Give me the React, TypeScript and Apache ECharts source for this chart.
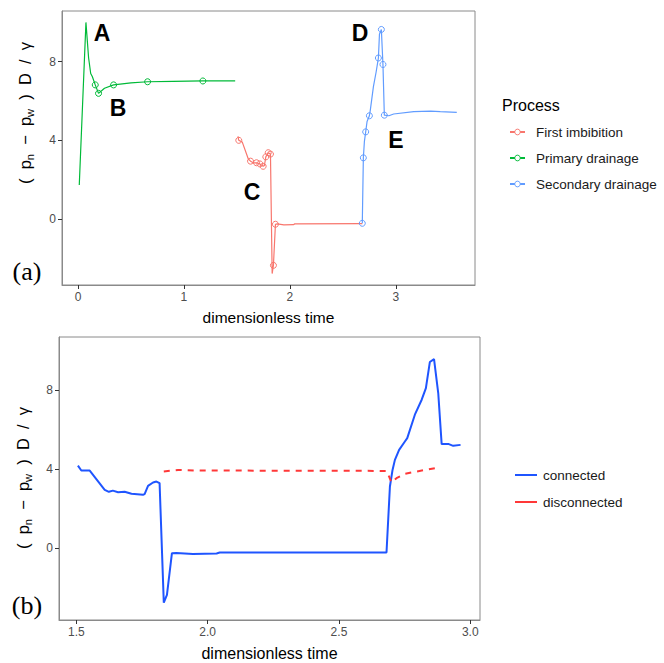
import React, { useEffect, useRef } from "react";
import * as echarts from "echarts";

// ---------- Panel (a) data ----------
const imbX = [1.510, 1.518, 1.551, 1.608, 1.629, 1.659, 1.685, 1.717, 1.748, 1.760, 1.773, 1.796, 1.817, 1.833, 1.845, 1.864, 1.881, 1.944, 2.034, 2.046, 2.684];
const imbY = [4.20, 4.00, 3.91, 3.05, 2.94, 2.85, 2.86, 2.80, 2.68, 2.72, 3.16, 3.37, 3.30, -2.78, -2.36, -0.27, -0.25, -0.30, -0.29, -0.25, -0.24];
const imbMarked = [0, 1, 0, 0, 1, 0, 1, 1, 1, 0, 1, 1, 1, 0, 1, 1, 0, 0, 0, 0, 0];

const drainX = [0.012, 0.075, 0.100, 0.120, 0.135, 0.163, 0.194, 0.250, 0.336, 0.500, 0.657, 0.900, 1.179, 1.484];
const drainY = [1.73, 10.0, 8.2, 7.4, 7.25, 6.82, 6.39, 6.65, 6.82, 6.92, 6.98, 7.00, 7.02, 7.03];
const drainMarked = [0, 0, 0, 0, 0, 1, 1, 0, 1, 0, 1, 0, 1, 0];

const secX = [2.684, 2.694, 2.704, 2.716, 2.729, 2.751, 2.760, 2.789, 2.815, 2.836, 2.846, 2.864, 2.879, 2.892, 2.935, 2.980, 3.170, 3.330, 3.420, 3.576];
const secY = [-0.22, 3.11, 3.95, 4.43, 4.96, 5.25, 5.55, 6.73, 7.49, 8.19, 9.40, 9.64, 7.86, 5.28, 5.25, 5.34, 5.46, 5.49, 5.46, 5.42];
const secMarked = [1, 1, 0, 1, 0, 1, 0, 0, 0, 1, 0, 1, 1, 1, 0, 0, 0, 0, 0, 0];

// ---------- Panel (b) data ----------
const connX = [1.506, 1.519, 1.551, 1.608, 1.624, 1.639, 1.659, 1.684, 1.710, 1.754, 1.760, 1.773, 1.792, 1.805, 1.817, 1.833, 1.845, 1.864, 1.881, 1.944, 2.034, 2.046, 2.681, 2.694, 2.704, 2.713, 2.729, 2.751, 2.760, 2.789, 2.815, 2.831, 2.846, 2.862, 2.878, 2.891, 2.916, 2.935, 2.963];
const connY = [4.19, 3.94, 3.94, 2.96, 2.86, 2.92, 2.84, 2.86, 2.76, 2.71, 2.74, 3.16, 3.33, 3.38, 3.30, -2.76, -2.37, -0.25, -0.24, -0.29, -0.27, -0.22, -0.22, 3.13, 3.97, 4.48, 4.99, 5.41, 5.58, 6.77, 7.53, 8.12, 9.44, 9.59, 7.87, 5.28, 5.29, 5.19, 5.24];

const discX = [1.833, 1.887, 1.950, 2.681, 2.691, 2.700, 2.719, 2.751, 2.796, 2.866];
const discY = [3.89, 3.97, 3.94, 3.92, 3.63, 3.33, 3.55, 3.77, 3.89, 4.06];

// ---------- Axes ----------
const topXTicks = [0, 1, 2, 3];
const topYTicks = [0, 4, 8];
const botXTicks = [1.5, 2.0, 2.5, 3.0];
const botYTicks = [0, 4, 8];

const processNames = ["First imbibition", "Primary drainage", "Secondary drainage"];
const processColors = ["#F8766D", "#00BA38", "#619CFF"];
const connNames = ["connected", "disconnected"];
const connColors = ["#1f55ff", "#ff3838"];

const FONT = "'Liberation Sans', Arial, Helvetica, sans-serif";
const BORDER = "#8a8a8a";

function markedData(xs: number[], ys: number[], marked: number[]) {
  return xs.map((x, i) => ({
    value: [x, ys[i]],
    symbol: marked[i] ? "circle" : "none",
  }));
}

function pairs(xs: number[], ys: number[]) {
  return xs.map((x, i) => [x, ys[i]]);
}

export default function App() {
  const ref = useRef<HTMLDivElement>(null);
  useEffect(() => {
    if (!ref.current) return;
    const chart = echarts.init(ref.current, null, { renderer: "svg" });

    const axisCommon = (ticks: number[], fmt?: (v: number) => string) => ({
      type: "value" as const,
      axisLine: { show: true, onZero: false, lineStyle: { color: BORDER, width: 1 } },
      splitLine: { show: false },
      axisTick: { show: true, length: 4, customValues: ticks, lineStyle: { color: "#333333", width: 1 } },
      axisLabel: {
        customValues: ticks,
        color: "#4d4d4d",
        fontSize: 12,
        fontFamily: FONT,
        margin: 6,
        formatter: fmt || ((v: number) => String(v)),
      },
    });

    const yTitle = (x: number, y: number) => ({
      type: "text",
      x,
      y,
      rotation: Math.PI / 2,
      style: {
        text: "(  {m|p}{s|n}  −  {m|p}{s|w}  )  D  /  γ",
        font: `16.5px ${FONT}`,
        fill: "#000",
        align: "center",
        verticalAlign: "middle",
        rich: {
          m: { fontSize: 16.5, fontFamily: FONT, lineHeight: 20, fill: "#000" },
          s: { fontSize: 11, fontFamily: FONT, lineHeight: 11, verticalAlign: "bottom", fill: "#000" },
        },
      },
    });

    const letter = (t: string, x: number, y: number) => ({
      type: "text",
      x,
      y,
      style: { text: t, font: `bold 23px ${FONT}`, fill: "#000", align: "center", verticalAlign: "middle" },
    });

    const procSeries = (idx: number, xs: number[], ys: number[], marked: number[]) => ({
      name: processNames[idx],
      type: "line",
      xAxisIndex: 0,
      yAxisIndex: 0,
      color: processColors[idx],
      symbol: "circle",
      symbolSize: 6,
      lineStyle: { width: 1.2, color: processColors[idx] },
      itemStyle: { color: "rgba(255,255,255,0)", borderColor: processColors[idx], borderWidth: 1 },
      data: markedData(xs, ys, marked),
    });

    const option: any = {
      animation: false,
      backgroundColor: "#ffffff",
      grid: [
        { left: 62, top: 11, width: 413, height: 274, show: true, borderColor: BORDER, borderWidth: 1, backgroundColor: "transparent" },
        { left: 59, top: 337, width: 421, height: 283, show: true, borderColor: BORDER, borderWidth: 1, backgroundColor: "transparent" },
      ],
      xAxis: [
        {
          ...axisCommon(topXTicks),
          gridIndex: 0,
          min: -0.151,
          max: 3.748,
          name: "dimensionless time",
          nameLocation: "middle",
          nameGap: 24,
          nameTextStyle: { fontSize: 15.5, color: "#000", fontFamily: FONT },
        },
        {
          ...axisCommon(botXTicks, (v: number) => v.toFixed(1)),
          gridIndex: 1,
          min: 1.434,
          max: 3.037,
          name: "dimensionless time",
          nameLocation: "middle",
          nameGap: 25,
          nameTextStyle: { fontSize: 16, color: "#000", fontFamily: FONT },
        },
      ],
      yAxis: [
        { ...axisCommon(topYTicks), gridIndex: 0, min: -3.36, max: 10.58 },
        { ...axisCommon(botYTicks), gridIndex: 1, min: -3.64, max: 10.71 },
      ],
      legend: [
        {
          data: processNames,
          orient: "vertical",
          left: 504,
          top: 120,
          itemWidth: 15,
          itemHeight: 7,
          itemGap: 12,
          itemStyle: { color: "#ffffff", borderColor: "inherit", borderWidth: 1 },
          textStyle: { fontSize: 13.5, color: "#1a1a1a", fontFamily: FONT, lineHeight: 14, padding: [0, 0, 0, 6] },
        },
        {
          data: connNames,
          orient: "vertical",
          left: 510,
          top: 463,
          icon: "rect",
          itemWidth: 22,
          itemHeight: 2,
          itemGap: 13,
          textStyle: { fontSize: 13.5, color: "#1a1a1a", fontFamily: FONT, lineHeight: 14, padding: [0, 0, 0, 1] },
        },
      ],
      series: [
        procSeries(0, imbX, imbY, imbMarked),
        procSeries(1, drainX, drainY, drainMarked),
        procSeries(2, secX, secY, secMarked),
        {
          name: connNames[0],
          type: "line",
          xAxisIndex: 1,
          yAxisIndex: 1,
          color: connColors[0],
          symbol: "none",
          lineStyle: { width: 2 },
          data: pairs(connX, connY),
        },
        {
          name: connNames[1],
          type: "line",
          xAxisIndex: 1,
          yAxisIndex: 1,
          color: connColors[1],
          symbol: "none",
          lineStyle: { width: 2, type: [6, 6] },
          data: pairs(discX, discY),
        },
      ],
      graphic: [
        yTitle(25, 113),
        yTitle(23, 478),
        letter("A", 102, 33),
        letter("B", 118, 108),
        letter("C", 252, 192),
        letter("D", 360, 33),
        letter("E", 396, 140),
        {
          type: "text",
          x: 27,
          y: 271,
          style: { text: "(a)", font: "26px 'Liberation Serif', 'DejaVu Serif', serif", fill: "#000", align: "center", verticalAlign: "middle" },
        },
        {
          type: "text",
          x: 27,
          y: 605,
          style: { text: "(b)", font: "26px 'Liberation Serif', 'DejaVu Serif', serif", fill: "#000", align: "center", verticalAlign: "middle" },
        },
        {
          type: "text",
          x: 502,
          y: 105,
          style: { text: "Process", font: `16px ${FONT}`, fill: "#000", align: "left", verticalAlign: "middle" },
        },
      ],
    };

    chart.setOption(option);
    return () => chart.dispose();
  }, []);

  return <div ref={ref} style={{ width: 664, height: 663, position: "absolute", left: 0, top: 0, background: "#fff" }} />;
}
